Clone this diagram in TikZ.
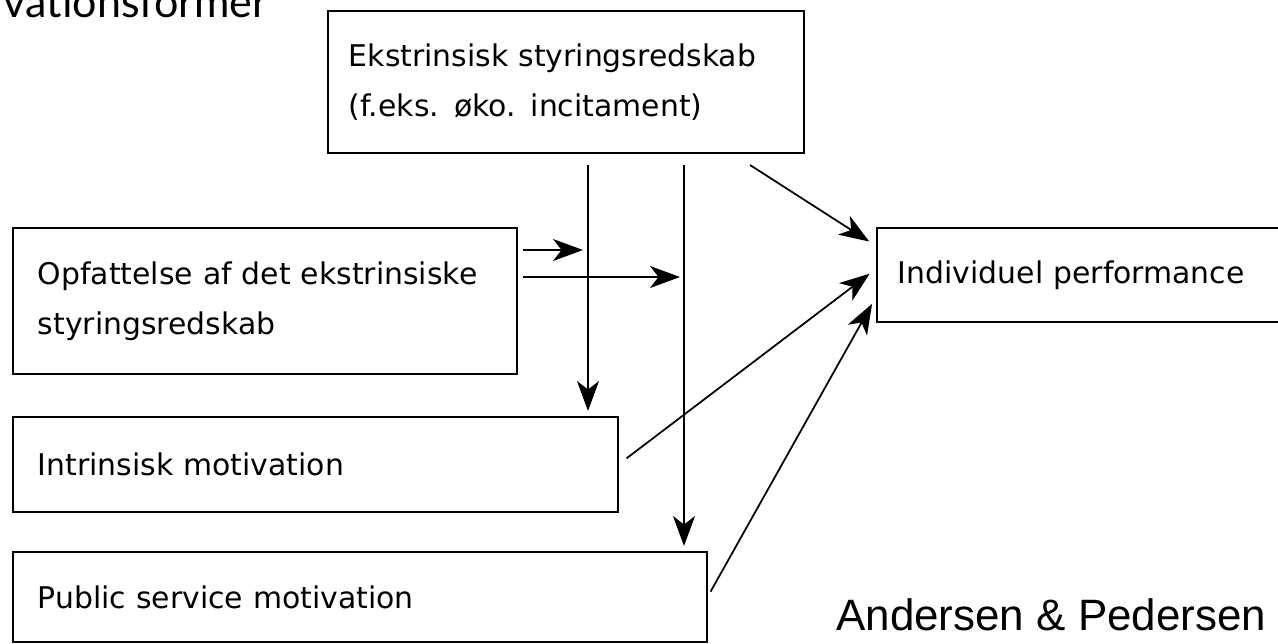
\documentclass[tikz,border=0pt]{standalone}
\usepackage{fontspec}
\setmainfont{DejaVu Sans}
\newfontfamily\titlefont{Lato}
\newfontfamily\creditfont{Liberation Sans}
\usetikzlibrary{arrows.meta}

\begin{document}
\begin{tikzpicture}[x=0.02cm,y=-0.02cm,
  box/.style={draw,line width=1pt,anchor=north west,inner xsep=0.5cm,inner ysep=0pt,
    align=left,font=\fontsize{17}{28.45}\selectfont},
  link/.style={line width=1pt,-{Stealth[length=0.6cm,width=0.44cm,inset=0.17cm]}}]
  \useasboundingbox (0,0) rectangle (1278,643);
  % boxes
  \node[box,inner xsep=0.42cm,text width=8.68cm,minimum height=2.84cm] (ekstr) at (327,10)
    {Ekstrinsisk styringsredskab\\(f.eks. øko. incitament)};
  \node[box,text width=9.08cm,minimum height=2.92cm] (opf) at (12,227)
    {Opfattelse af det ekstrinsiske\\styringsredskab};
  \node[box,text width=11.1cm,minimum height=1.9cm] (intr) at (12,416) {Intrinsisk motivation};
  \node[box,text width=12.88cm,minimum height=1.8cm] (pub) at (12,551) {Public service motivation};
  \node[box,inner xsep=0.42cm,text width=7.44cm,minimum height=1.88cm] (perf) at (876,227)
    {Individuel performance};
  % texts outside the boxes
  \node[anchor=base west,inner sep=0pt,font=\titlefont\fontsize{24.5}{24.5}\selectfont] (title) at (3,17) {vationsformer};
  \node[anchor=base west,inner sep=0pt,font=\creditfont\fontsize{25}{25}\selectfont] (credit) at (836,630) {Andersen \& Pedersen};
  % free ends below the top box
  \coordinate (v1) at (588,165);
  \coordinate (v2) at (684,165);
  \coordinate (d0) at (750,165);
  \coordinate (h1) at (523,250);
  \coordinate (h2) at (523,277);
  % arrows
  \draw[link,shorten >=0.1cm] (v1) -- (v1 |- intr.north);
  \draw[link,shorten >=0.1cm] (v2) -- (v2 |- pub.north);
  \draw[link,shorten >=0.1cm] (h1) -- (h1 -| v1);
  \draw[link,shorten >=0.08cm] (h2) -- (h2 -| v2);
  \draw[link,shorten >=0.16cm] (d0) -- ([yshift=0.58cm]perf.west);
  \draw[link,shorten <=0.2cm,shorten >=0.16cm] (intr.east) -- ([yshift=0.12cm]perf.west);
  \draw[link,shorten <=0.12cm,shorten >=0.16cm] (pub.east) -- ([yshift=-0.44cm]perf.west);
\end{tikzpicture}
\end{document}
